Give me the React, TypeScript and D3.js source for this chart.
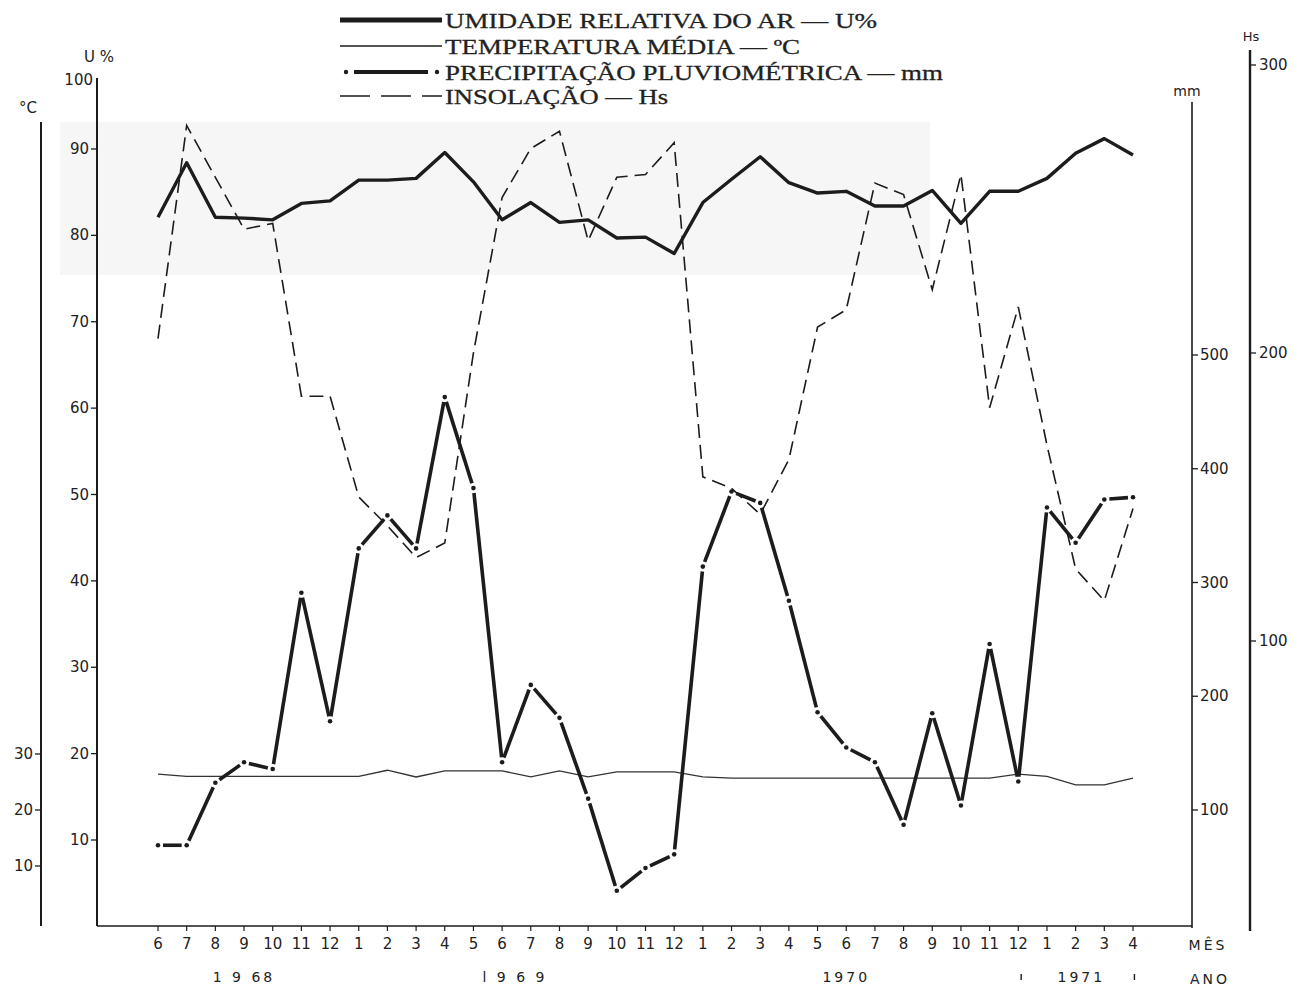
import React from "react";
import * as d3 from "d3";

// ---- data ----
const months = ["6","7","8","9","10","11","12","1","2","3","4","5","6","7","8","9","10","11","12","1","2","3","4","5","6","7","8","9","10","11","12","1","2","3","4"];
const humidity = [82.1, 88.4, 82.1, 82.0, 81.8, 83.7, 84.0, 86.4, 86.4, 86.6, 89.6, 86.2, 81.8, 83.8, 81.5, 81.8, 79.7, 79.8, 77.9, 83.8, 86.5, 89.1, 86.1, 84.9, 85.1, 83.4, 83.4, 85.2, 81.4, 85.1, 85.1, 86.6, 89.5, 91.2, 89.3];
const temperature = [26.4, 26.0, 26.0, 26.0, 26.0, 26.0, 26.0, 26.0, 27.1, 25.9, 27.0, 27.0, 27.0, 25.9, 27.0, 25.9, 26.8, 26.8, 26.8, 25.9, 25.7, 25.7, 25.7, 25.7, 25.7, 25.7, 25.7, 25.7, 25.7, 25.7, 26.4, 26.0, 24.5, 24.5, 25.7];
const precipitation = [69, 69, 124, 142, 136, 291, 178, 330, 359, 330, 463, 383, 142, 210, 181, 110, 29, 49, 61, 314, 380, 370, 284, 186, 155, 142, 87, 185, 104, 246, 125, 366, 335, 373, 375];
const insolation = [205, 279, 261, 243, 245, 185, 185, 150, 140, 129, 134, 200, 254, 271, 277, 239, 261, 262, 273, 157, 153, 144, 163, 209, 215, 259, 255, 222, 262, 181, 216, 168, 125, 114, 146];

const uTicks = [10, 20, 30, 40, 50, 60, 70, 80, 90];
const tTicks = [10, 20, 30];
const pTicks = [100, 200, 300, 400, 500];
const hTicks = [100, 200, 300];
const years = [
  { label: "1 9 68", at: 3.0 },
  { label: "l 9 6 9", at: 12.45 },
  { label: "1970", at: 24.0 },
  { label: "1971", at: 32.2 },
];
const yearMarks = [30.1, 34.05];
const legendItems = [
  { label: "UMIDADE RELATIVA DO AR — U%", kind: "thick", width: 432 },
  { label: "TEMPERATURA MÉDIA — ºC", kind: "thin", width: 355 },
  { label: "PRECIPITAÇÃO PLUVIOMÉTRICA — mm", kind: "dashdot", width: 498 },
  { label: "INSOLAÇÃO — Hs", kind: "dashed", width: 223 },
];

const INK = "#1c1c1c";
const SANS = "'DejaVu Sans', 'Liberation Sans', sans-serif";
const SERIF = "'Liberation Serif', 'DejaVu Serif', serif";

export default function App() {
  const W = 1301, H = 989;
  const x = d3.scaleLinear().domain([0, months.length - 1]).range([158, 1133]);
  const yU = d3.scaleLinear().domain([10, 90]).range([840, 149]);
  const yT = d3.scaleLinear().domain([10, 30]).range([866, 754]);
  const yP = d3.scaleLinear().domain([100, 500]).range([810, 355]);
  const yH = d3.scaleLinear().domain([100, 300]).range([641, 65]);

  const idx = months.map((_, i) => i);
  const lineU = d3.line<number>().x((i) => x(i)).y((i) => yU(humidity[i]))(idx) || "";
  const lineT = d3.line<number>().x((i) => x(i)).y((i) => yT(temperature[i]))(idx) || "";
  const lineH = d3.line<number>().x((i) => x(i)).y((i) => yH(insolation[i]))(idx) || "";

  const pPts = idx.map((i) => [x(i), yP(precipitation[i])] as [number, number]);
  const gap = 5;
  const pSegs = pPts.slice(0, -1).map((p, i) => {
    const q = pPts[i + 1];
    const dx = q[0] - p[0], dy = q[1] - p[1];
    const len = Math.hypot(dx, dy);
    const ux = dx / len, uy = dy / len;
    return { x1: p[0] + ux * gap, y1: p[1] + uy * gap, x2: q[0] - ux * gap, y2: q[1] - uy * gap };
  });

  const baseY = 926;
  const axU = 97, axT = 41, axP = 1192, axH = 1250;
  const legendRows = [20, 46, 72, 96];

  return (
    <svg width={W} height={H} viewBox={`0 0 ${W} ${H}`} style={{ position: "absolute", left: 0, top: 0, background: "#fff" }}>
      <rect x={0} y={0} width={W} height={H} fill="#fff" />
      {/* faint scanned background patch */}
      <rect x={60} y={122} width={870} height={153} fill="#f6f6f6" />

      {/* legend */}
      {legendItems.map((it, k) => {
        const ly = legendRows[k];
        return (
          <g key={it.label}>
            {it.kind === "thick" && <line x1={340} x2={442} y1={ly} y2={ly} stroke={INK} strokeWidth={5} />}
            {it.kind === "thin" && <line x1={340} x2={442} y1={ly} y2={ly} stroke={INK} strokeWidth={1.4} />}
            {it.kind === "dashdot" && (
              <g>
                <circle cx={346} cy={ly} r={2.2} fill={INK} />
                <line x1={354} x2={428} y1={ly} y2={ly} stroke={INK} strokeWidth={4} />
                <circle cx={437} cy={ly} r={2.2} fill={INK} />
              </g>
            )}
            {it.kind === "dashed" && (
              <line x1={340} x2={442} y1={ly} y2={ly} stroke={INK} strokeWidth={1.6} strokeDasharray="30 11" />
            )}
            <text x={445} y={ly + 8} fontFamily={SERIF} fontSize={22} fill="#222" stroke="#222" strokeWidth={0.3} textLength={it.width} lengthAdjust="spacingAndGlyphs">
              {it.label}
            </text>
          </g>
        );
      })}

      {/* left axes */}
      <line x1={axT} x2={axT} y1={122} y2={926} stroke={INK} strokeWidth={2} />
      <text x={28} y={113} fontFamily={SANS} fontSize={15} fill="#222" textAnchor="middle">°C</text>
      {tTicks.map((t) => (
        <g key={"t" + t}>
          <line x1={axT - 6} x2={axT} y1={yT(t)} y2={yT(t)} stroke={INK} strokeWidth={1.3} />
          <text x={axT - 8} y={yT(t) + 5} fontFamily={SANS} fontSize={15} fill="#222" textAnchor="end">{t}</text>
        </g>
      ))}

      <line x1={axU} x2={axU} y1={78} y2={baseY} stroke={INK} strokeWidth={2} />
      <text x={99} y={62} fontFamily={SANS} fontSize={15} fill="#222" textAnchor="middle">U %</text>
      <text x={93} y={85} fontFamily={SANS} fontSize={15} fill="#222" textAnchor="end">100</text>
      {uTicks.map((t) => (
        <g key={"u" + t}>
          <line x1={axU - 6} x2={axU} y1={yU(t)} y2={yU(t)} stroke={INK} strokeWidth={1.3} />
          <text x={axU - 8} y={yU(t) + 5} fontFamily={SANS} fontSize={15} fill="#222" textAnchor="end">{t}</text>
        </g>
      ))}

      {/* right axes */}
      <line x1={axP} x2={axP} y1={102} y2={928} stroke={INK} strokeWidth={1.6} />
      <text x={1187} y={96} fontFamily={SANS} fontSize={14} fill="#222" textAnchor="middle">mm</text>
      {pTicks.map((t) => (
        <g key={"p" + t}>
          <line x1={axP} x2={axP + 6} y1={yP(t)} y2={yP(t)} stroke={INK} strokeWidth={1.3} />
          <text x={axP + 8} y={yP(t) + 5} fontFamily={SANS} fontSize={15} fill="#222">{t}</text>
        </g>
      ))}

      <line x1={axH} x2={axH} y1={50} y2={931} stroke={INK} strokeWidth={2.4} />
      <text x={1251} y={41} fontFamily={SANS} fontSize={13} fill="#222" textAnchor="middle">Hs</text>
      {hTicks.map((t) => (
        <g key={"h" + t}>
          <line x1={axH} x2={axH + 6} y1={yH(t)} y2={yH(t)} stroke={INK} strokeWidth={1.3} />
          <text x={axH + 9} y={yH(t) + 5} fontFamily={SANS} fontSize={15} fill="#222">{t}</text>
        </g>
      ))}

      {/* x axis */}
      <line x1={axU} x2={axP} y1={baseY} y2={baseY} stroke={INK} strokeWidth={1.4} />
      {months.map((m, i) => (
        <g key={"m" + i}>
          <line x1={x(i)} x2={x(i)} y1={baseY} y2={baseY + 5} stroke={INK} strokeWidth={1.2} />
          <text x={x(i)} y={949} fontFamily={SANS} fontSize={15} fill="#222" textAnchor="middle">{m}</text>
        </g>
      ))}
      <text x={1208} y={950} fontFamily={SANS} fontSize={14} fill="#222" textAnchor="middle" letterSpacing={3}>MÊS</text>
      <text x={1210} y={984} fontFamily={SANS} fontSize={14} fill="#222" textAnchor="middle" letterSpacing={3}>ANO</text>
      {years.map((yr) => (
        <text key={yr.label} x={x(yr.at)} y={982} fontFamily={SANS} fontSize={14} fill="#222" textAnchor="middle" letterSpacing={3}>
          {yr.label}
        </text>
      ))}
      {yearMarks.map((m) => (
        <line key={"ym" + m} x1={x(m)} x2={x(m)} y1={974} y2={980} stroke={INK} strokeWidth={1.4} />
      ))}

      {/* series */}
      <path d={lineT} fill="none" stroke="#333" strokeWidth={1.3} />
      <path d={lineH} fill="none" stroke={INK} strokeWidth={1.6} strokeDasharray="14 7" />
      <path d={lineU} fill="none" stroke={INK} strokeWidth={3.4} strokeLinejoin="round" />
      {pSegs.map((s, i) => (
        <line key={"ps" + i} x1={s.x1} y1={s.y1} x2={s.x2} y2={s.y2} stroke={INK} strokeWidth={3.6} />
      ))}
      {pPts.map((p, i) => (
        <circle key={"pp" + i} cx={p[0]} cy={p[1]} r={2.3} fill={INK} />
      ))}
    </svg>
  );
}
